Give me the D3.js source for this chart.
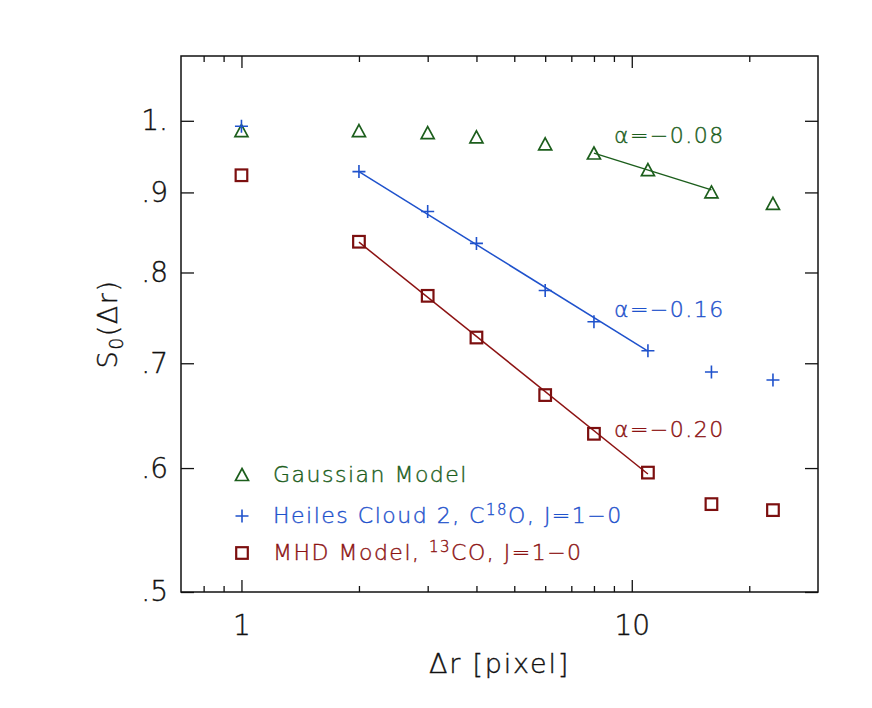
<!DOCTYPE html>
<html>
<head>
<meta charset="utf-8">
<script src="https://cdn.jsdelivr.net/npm/d3@7"></script>
<style>
  body { margin: 0; background: #fff; }
  svg text { font-family: "DejaVu Sans", "Liberation Sans", sans-serif; font-weight: 200; }
</style>
</head>
<body>
<div id="chart"></div>
<script>
// lags in pixels
var lags = [1, 2, 3, 4, 6, 8, 11, 16, 23];
var gaussian = [0.985, 0.985, 0.982, 0.976, 0.966, 0.953, 0.930, 0.900, 0.885];
var heiles = [0.992, 0.928, 0.875, 0.835, 0.779, 0.744, 0.713, 0.691, 0.683];
var mhd = [0.923, 0.837, 0.773, 0.727, 0.668, 0.631, 0.596, 0.569, 0.564];

// power law fits, endpoints [lag, S0]
var gaussFit = [[8, 0.9536], [16, 0.9034]];
var heilesFit = [[2, 0.928], [11, 0.7125]];
var mhdFit = [[2, 0.8365], [11, 0.5948]];

var fitLabels = ["\u03b1=\u22120.08", "\u03b1=\u22120.16", "\u03b1=\u22120.20"];
var fitLabelPos = [[9.0, 0.968], [9.0, 0.749], [9.0, 0.628]];

var xMajor = [1, 10];
var xMinor = [0.8, 0.9, 2, 3, 4, 5, 6, 7, 8, 9, 20];
var yMajor = [0.5, 0.6, 0.7, 0.8, 0.9, 1.0];
var yTickText = [".5", ".6", ".7", ".8", ".9", "1."];

var GREEN = "#1c5e1c", BLUE = "#1f52cc", RED = "#8c1212";

function drawGraphic(){
var width = 872, height = 708;
var mLeft = 181, mRight = 818, mTop = 56, mBottom = 592;

var svg = d3.select("#chart").append("svg")
  .attr("width", width)
  .attr("height", height)

var x = d3.scaleLog().domain([0.7, 30]).range([mLeft, mRight]);
var y = d3.scaleLog().domain([0.5, 1.1]).range([mBottom, mTop]);

function styleAxis(g){
  g.select(".domain").remove()
  g.selectAll("line").attr("stroke", "#111").attr("stroke-width", 1.3)
  g.selectAll("text").attr("fill", "#111").style("font-size", "28px")
    .attr("stroke", "#111").attr("stroke-width", 0.4)
    .style("font-family", "DejaVu Sans, sans-serif").style("font-weight", 200)
}

// bottom
svg.append("g").attr("transform", "translate(0," + mBottom + ")")
  .call(d3.axisBottom(x).tickValues(xMajor).tickSize(-12).tickPadding(23).tickFormat(d3.format("d")))
  .call(styleAxis)
svg.append("g").attr("transform", "translate(0," + mBottom + ")")
  .call(d3.axisBottom(x).tickValues(xMinor).tickSize(-6).tickFormat(""))
  .call(styleAxis)
// top
svg.append("g").attr("transform", "translate(0," + mTop + ")")
  .call(d3.axisTop(x).tickValues(xMajor).tickSize(-12).tickFormat(""))
  .call(styleAxis)
svg.append("g").attr("transform", "translate(0," + mTop + ")")
  .call(d3.axisTop(x).tickValues(xMinor).tickSize(-6).tickFormat(""))
  .call(styleAxis)
// left
svg.append("g").attr("transform", "translate(" + mLeft + ",0)")
  .call(d3.axisLeft(y).tickValues(yMajor).tickSize(-13).tickPadding(13)
    .tickFormat(function(d, i){ return yTickText[i] }))
  .call(styleAxis)
// right
svg.append("g").attr("transform", "translate(" + mRight + ",0)")
  .call(d3.axisRight(y).tickValues(yMajor).tickSize(-13).tickFormat(""))
  .call(styleAxis)

svg.append("rect")
  .attr("x", mLeft).attr("y", mTop)
  .attr("width", mRight - mLeft).attr("height", mBottom - mTop)
  .attr("fill", "none").attr("stroke", "#111").attr("stroke-width", 1.5)

// axis titles
svg.append("text")
  .attr("x", (mLeft + mRight) / 2).attr("y", 673)
  .attr("text-anchor", "middle")
  .attr("stroke", "#111").attr("stroke-width", 0.4)
  .style("font-size", "27px").style("letter-spacing", "1.8px").attr("fill", "#111")
  .text("\u0394r [pixel]")

var ylab = svg.append("text")
  .attr("transform", "translate(117," + ((mTop + mBottom) / 2) + ") rotate(-90)")
  .attr("text-anchor", "middle")
  .attr("stroke", "#111").attr("stroke-width", 0.4)
  .style("font-size", "27px").style("letter-spacing", "1.5px").attr("fill", "#111")
ylab.append("tspan").text("S")
ylab.append("tspan").attr("dy", 6).style("font-size", "19px").text("0")
ylab.append("tspan").attr("dy", -6).text("(\u0394r)")

// fit lines
var line = d3.line().x(function(d){ return x(d[0]) }).y(function(d){ return y(d[1]) });
var fits = [[gaussFit, GREEN], [heilesFit, BLUE], [mhdFit, RED]];
fits.forEach(function(f){
  svg.append("path").attr("d", line(f[0]))
    .attr("fill", "none").attr("stroke", f[1]).attr("stroke-width", 1.5)
})

// markers
function drawTri(g, cx, cy){
  g.append("path").attr("d", "M0,-6.5L6.5,5.5L-6.5,5.5Z")
    .attr("transform", "translate(" + cx + "," + cy + ")")
    .attr("fill", "none").attr("stroke", GREEN).attr("stroke-width", 1.7)
}
function drawPlus(g, cx, cy){
  g.append("path").attr("d", "M-6.5,0H6.5M0,-6.5V6.5")
    .attr("transform", "translate(" + cx + "," + cy + ")")
    .attr("fill", "none").attr("stroke", BLUE).attr("stroke-width", 1.6)
}
function drawSquare(g, cx, cy){
  g.append("rect").attr("x", cx - 5.8).attr("y", cy - 5.8)
    .attr("width", 11.6).attr("height", 11.6)
    .attr("fill", "none").attr("stroke", "#7c0f0f").attr("stroke-width", 2.2)
}

var marks = svg.append("g")
lags.forEach(function(l, i){
  drawTri(marks, x(l), y(gaussian[i]))
  drawPlus(marks, x(l), y(heiles[i]))
  drawSquare(marks, x(l), y(mhd[i]))
})

// fit labels
var labColors = [GREEN, BLUE, RED];
fitLabels.forEach(function(t, i){
  svg.append("text")
    .attr("x", x(fitLabelPos[i][0])).attr("y", y(fitLabelPos[i][1]))
    .attr("fill", labColors[i]).attr("stroke", labColors[i]).attr("stroke-width", 0.4)
    .style("font-size", "22px").style("letter-spacing", "1.5px")
    .text(t)
})

// legend
var legend = svg.append("g").attr("transform", "translate(242,0)")
var legRows = [475, 516, 553];
drawTri(legend, 0, legRows[0])
drawPlus(legend, 0, legRows[1])
drawSquare(legend, 0, legRows[2])

function legText(row, color){
  return legend.append("text").attr("x", 31).attr("y", row + 7)
    .attr("fill", color).attr("stroke", color).attr("stroke-width", 0.4)
    .style("font-size", "22px").style("letter-spacing", "1.5px")
}
legText(legRows[0], GREEN).text("Gaussian Model")
var lt2 = legText(legRows[1], BLUE)
lt2.append("tspan").text("Heiles Cloud 2, C")
lt2.append("tspan").attr("dy", -8).style("font-size", "15px").text("18")
lt2.append("tspan").attr("dy", 8).text("O, J=1\u22120")
var lt3 = legText(legRows[2], RED)
lt3.append("tspan").text("MHD Model, ")
lt3.append("tspan").attr("dy", -8).style("font-size", "15px").text("13")
lt3.append("tspan").attr("dy", 8).text("CO, J=1\u22120")
}
drawGraphic()
</script>
</body>
</html>
